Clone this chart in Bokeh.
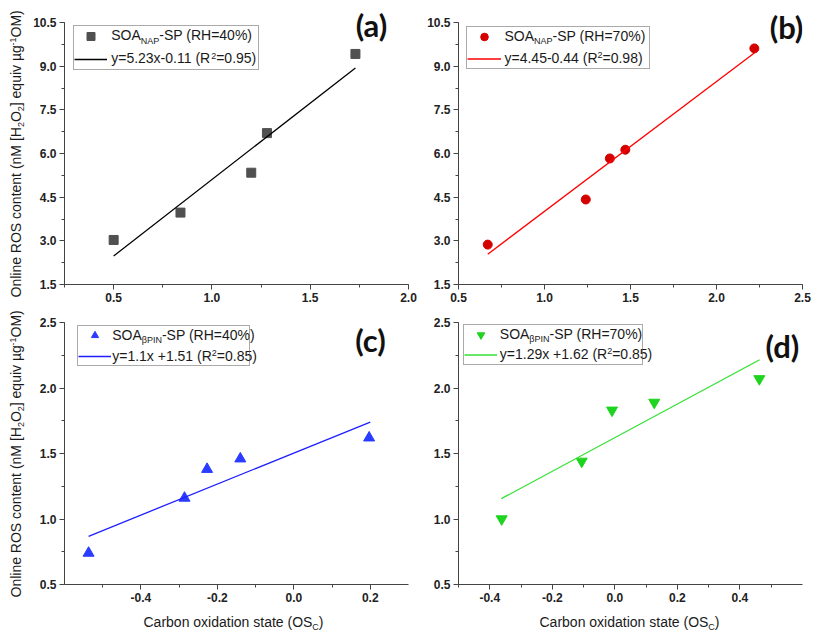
from math import pi
from bokeh.plotting import figure
from bokeh.layouts import gridplot, row, column
from bokeh.models import (Label, Legend, LegendItem, SingleIntervalTicker,
                          PrintfTickFormatter, Range1d)
from bokeh.embed import file_html
from bokeh.resources import INLINE

# ---- data ----
# (a) SOA_NAP-SP, RH=40%
a_osc = [0.50, 0.84, 1.20, 1.28, 1.73]
a_ros = [3.03, 3.97, 5.34, 6.70, 9.42]
a_fit_x = [0.50, 1.73]
a_fit_y = [2.48, 8.94]
# (b) SOA_NAP-SP, RH=70%
b_osc = [0.67, 1.24, 1.38, 1.47, 2.22]
b_ros = [2.87, 4.42, 5.83, 6.13, 9.61]
b_fit_x = [0.67, 2.22]
b_fit_y = [2.54, 9.45]
# (c) SOA_bPIN-SP, RH=40%
c_osc = [-0.537, -0.286, -0.227, -0.140, 0.197]
c_ros = [0.74, 1.16, 1.38, 1.46, 1.62]
c_fit_x = [-0.537, 0.20]
c_fit_y = [0.868, 1.74]
# (d) SOA_bPIN-SP, RH=70%
d_osc = [-0.362, -0.106, -0.009, 0.126, 0.462]
d_ros = [1.00, 1.44, 1.83, 1.89, 2.07]
d_fit_x = [-0.363, 0.463]
d_fit_y = [1.155, 2.216]

# texts, as (piece, kind) with kind n / sub / sup
y_label = [("Online ROS content (nM [H", "n"), ("2", "sub"), ("O", "n"), ("2", "sub"),
           ("] equiv \u00b5g", "n"), ("-1", "sup"), ("OM)", "n")]
x_label = [("Carbon oxidation state (OS", "n"), ("C", "sub"), (")", "n")]
a_leg = [[("SOA", "n"), ("NAP", "sub"), ("-SP (RH=40%)", "n")],
         [("y=5.23x-0.11 (R", "n"), ("2", "sup"), ("=0.95)", "n")]]
b_leg = [[("SOA", "n"), ("NAP", "sub"), ("-SP (RH=70%)", "n")],
         [("y=4.45-0.44 (R", "n"), ("2", "sup"), ("=0.98)", "n")]]
c_leg = [[("SOA", "n"), ("\u03b2PIN", "sub"), ("-SP (RH=40%)", "n")],
         [("y=1.1x +1.51 (R", "n"), ("2", "sup"), ("=0.85)", "n")]]
d_leg = [[("SOA", "n"), ("\u03b2PIN", "sub"), ("-SP (RH=70%)", "n")],
         [("y=1.29x +1.62 (R", "n"), ("2", "sup"), ("=0.85)", "n")]]

FONT = "Liberation Sans"
FRAME_W = 344
DROP = 0.45  # labels land this many font-sizes below the asked baseline
AW = {" ": 278, "(": 333, ")": 333, "-": 333, ".": 278, "=": 584, "%": 889, "[": 278,
      "]": 278, "+": 584, "A": 667, "C": 722, "H": 722, "I": 278, "M": 833, "N": 722,
      "O": 778, "P": 667, "R": 722, "S": 667, "a": 556, "b": 556, "c": 500, "d": 556,
      "e": 556, "g": 556, "i": 222, "l": 222, "n": 556, "o": 556, "q": 556, "r": 333,
      "s": 500, "t": 278, "u": 556, "v": 500, "x": 500, "y": 500, "\u03b2": 575,
      "\u00b5": 556}


def tw(s, size):
    return sum(AW.get(ch, 556) for ch in s) * size / 1000.0


def make_panel(xr, yr, ybounds, xstep, ystep, fh, left, right, top, bottom):
    p = figure(width=left + FRAME_W + right, height=top + fh + bottom,
               x_range=xr, y_range=yr, title=None,
               output_backend="svg", toolbar_location=None,
               min_border_left=left, min_border_right=right,
               min_border_top=top, min_border_bottom=bottom)
    p.outline_line_color = None
    p.xgrid.grid_line_color = None
    p.ygrid.grid_line_color = None
    p.xaxis.ticker = SingleIntervalTicker(interval=xstep, num_minor_ticks=2)
    p.yaxis.ticker = SingleIntervalTicker(interval=ystep, num_minor_ticks=2)
    p.yaxis.bounds = ybounds
    for ax in (p.xaxis[0], p.yaxis[0]):
        ax.formatter = PrintfTickFormatter(format="%.1f")
        ax.axis_line_color = "#444444"
        ax.major_tick_line_color = "#444444"
        ax.minor_tick_line_color = "#444444"
        ax.major_tick_in = 0
        ax.major_tick_out = 5
        ax.minor_tick_in = 0
        ax.minor_tick_out = 3
        ax.major_label_text_font = FONT
        ax.major_label_text_font_style = "bold"
        ax.major_label_text_font_size = "12px"
        ax.major_label_text_color = "#222222"
        ax.major_label_standoff = 3
    return p


def blank(w, h):
    # empty canvas whose data units are its own pixels (y downwards)
    p = figure(width=w, height=h, x_range=Range1d(0, w), y_range=Range1d(h, 0),
               title=None, output_backend="svg", toolbar_location=None,
               x_axis_type=None, y_axis_type=None, min_border=0)
    p.outline_line_color = None
    p.xgrid.visible = False
    p.ygrid.visible = False
    return p


def to_data(info, px, py):
    x0, x1 = info["xr"]
    y0, y1 = info["yr"]
    return (x0 + (px - info["L"]) / info["W"] * (x1 - x0),
            y1 - (py - info["T"]) / info["H"] * (y1 - y0))


def rich(info, parts, px, py, vertical=False):
    adv = 0.0
    for txt, kind in parts:
        size = 14 if kind == "n" else 9
        shift = {"n": 0, "sub": 3, "sup": -5}[kind] - DROP * size
        if vertical:
            x, y = to_data(info, px + shift, py - adv)
            ang = pi / 2
        else:
            x, y = to_data(info, px + adv, py + shift)
            ang = 0
        info["p"].add_layout(Label(x=x, y=y, text=txt, angle=ang, text_font=FONT,
                                   text_font_size="%dpx" % size, text_color="#1a1a1a",
                                   text_align="left", text_baseline="alphabetic"))
        adv += tw(txt, size)


def panel(xs, ys, fx, fy, marker, msize, mcolor, lcolor, info, leg, box, tag, tag_pos):
    p = info["p"]
    sc = p.scatter(xs, ys, marker=marker, size=msize, color=mcolor)
    ln = p.line(fx, fy, line_color=lcolor, line_width=1.3)
    bl, bt, br, gw, gh, sp, so = box
    bb = bt + 2 * gh + sp
    legend = Legend(items=[LegendItem(label=" ", renderers=[sc]),
                           LegendItem(label=" ", renderers=[ln])],
                    location=(bl - info["L"], info["T"] + info["H"] - bb),
                    padding=0, margin=0, spacing=sp, glyph_width=gw, glyph_height=gh,
                    label_standoff=so, label_width=int(br - bl - gw - so), label_height=gh,
                    border_line_color="#555555", border_line_width=1,
                    background_fill_alpha=0, label_text_font_size="14px")
    p.add_layout(legend)
    tx = bl + gw + so
    rich(info, leg[0], tx, bt + gh / 2 + 4.5)
    rich(info, leg[1], tx, bt + 1.5 * gh + sp + 4.5)
    x, y = to_data(info, tag_pos[0], tag_pos[1] - DROP * 31)
    p.add_layout(Label(x=x, y=y, text=tag, text_font="Lato", text_font_style="bold",
                       text_font_size="31px", text_color="#111111",
                       text_align="center", text_baseline="alphabetic"))


# page layout (pixels from the top-left of the page)
YLAB_W = 28
# top row frames reach 14px above the 10.5 tick so the (a)/(b) tags fit inside
top_hi = 10.5 + 14 * (10.5 - 1.5) / 262
pa = make_panel((0.25, 2.0), (1.5, top_hi), (1.5, 10.5), 0.5, 1.5, 276, 36, 10, 8, 30)
pb = make_panel((0.5, 2.5), (1.5, top_hi), (1.5, 10.5), 0.5, 1.5, 276, 40, 10, 8, 30)
pc = make_panel((-0.6, 0.3), (0.5, 2.5), (0.5, 2.5), 0.2, 0.5, 262, 36, 10, 8, 22)
pd = make_panel((-0.5, 0.6), (0.5, 2.5), (0.5, 2.5), 0.2, 0.5, 262, 40, 10, 8, 22)
ylab = blank(YLAB_W, 314 + 292)
xlab = blank(390 + 394, 27)

ia = {"p": pa, "L": 64, "T": 8, "W": FRAME_W, "H": 276, "xr": (0.25, 2.0), "yr": (1.5, top_hi)}
ib = {"p": pb, "L": 458, "T": 8, "W": FRAME_W, "H": 276, "xr": (0.5, 2.5), "yr": (1.5, top_hi)}
ic = {"p": pc, "L": 64, "T": 322, "W": FRAME_W, "H": 262, "xr": (-0.6, 0.3), "yr": (0.5, 2.5)}
idd = {"p": pd, "L": 458, "T": 322, "W": FRAME_W, "H": 262, "xr": (-0.5, 0.6), "yr": (0.5, 2.5)}
iy = {"p": ylab, "L": 0, "T": 0, "W": YLAB_W, "H": 606, "xr": (0, YLAB_W), "yr": (606, 0)}
ix = {"p": xlab, "L": YLAB_W, "T": 606, "W": 784, "H": 27, "xr": (0, 784), "yr": (27, 0)}

panel(a_osc, a_ros, a_fit_x, a_fit_y, "square", 9, "#505050", "#000000", ia, a_leg,
      (72.7, 26.7, 257, 33, 20, 3, 5), "(a)", (371, 38.5))
panel(b_osc, b_ros, b_fit_x, b_fit_y, "circle", 9, "#d40000", "#ff0000", ib, b_leg,
      (466, 27.7, 648.3, 34, 19, 3, 4), "(b)", (786, 40))
panel(c_osc, c_ros, c_fit_x, c_fit_y, "triangle", 11, "#2a3cff", "#1f1fff", ic, c_leg,
      (76.7, 327.3, 248.3, 33, 18, 3, 2), "(c)", (370, 353))
panel(d_osc, d_ros, d_fit_x, d_fit_y, "inverted_triangle", 11, "#1ed41e", "#33e033", idd, d_leg,
      (463.3, 325.7, 642.3, 33, 19, 1, 3), "(d)", (782, 359))

rich(iy, y_label, 22, 297, vertical=True)
rich(iy, y_label, 22, 597, vertical=True)
rich(ix, x_label, 143, 628)
rich(ix, x_label, 539, 628)

grid = gridplot([[pa, pb], [pc, pd]], toolbar_location=None)
page = row(ylab, column(grid, xlab))
open("out.html", "w").write(file_html(page, INLINE))
